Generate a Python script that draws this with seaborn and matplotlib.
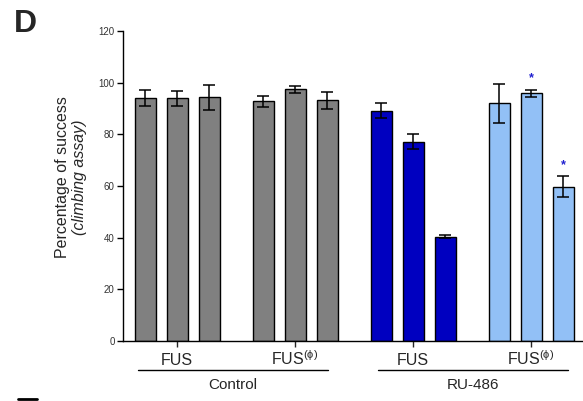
import matplotlib
matplotlib.use("Agg")
import matplotlib.pyplot as plt
import seaborn as sns
import pandas as pd
import numpy as np
from matplotlib.lines import Line2D

sns.set_theme(style="ticks")
plt.rcParams['font.family'] = ['Liberation Sans', 'DejaVu Sans']
plt.rcParams['mathtext.fontset'] = 'custom'
plt.rcParams['mathtext.rm'] = 'Liberation Sans'
plt.rcParams['mathtext.it'] = 'Liberation Sans:italic'

# ---- data ----
groups = ["Control FUS", "Control FUS(phi)", "RU-486 FUS", "RU-486 FUS(phi)"]
tick_labels = ["FUS", r"FUS$^{(\mathrm{\phi})}$", "FUS", r"FUS$^{(\mathrm{\phi})}$"]
replicates = ["1", "2", "3"]
means = [
    [94.0, 93.9, 94.3],
    [92.8, 97.4, 93.2],
    [89.2, 77.2, 40.4],
    [92.0, 95.9, 59.8],
]
errors = [
    [3.0, 3.0, 4.7],
    [2.1, 1.3, 3.3],
    [2.9, 2.9, 0.6],
    [7.6, 1.4, 4.1],
]
group_colors = ["#808080", "#808080", "#0000C0", "#92C0F6"]
star_group = [3, 3]
star_rep = [1, 2]
condition_labels = ["Control", "RU-486"]

rows = []
for g, gname in enumerate(groups):
    for r, rname in enumerate(replicates):
        rows.append({"group": gname, "rep": rname, "value": means[g][r], "err": errors[g][r]})
df = pd.DataFrame(rows)

fig = plt.figure(figsize=(5.83, 4.01), dpi=100)
ax = fig.add_axes([123/583, 60/401, 460/583, 310/401])

sns.barplot(data=df, x="group", y="value", hue="rep", order=groups, hue_order=replicates,
            palette=["#808080"]*3, errorbar=None, width=0.813, gap=0.343,
            edgecolor="black", linewidth=1.0, legend=False, ax=ax)

bar_containers = list(ax.containers)
for r, cont in enumerate(bar_containers):
    for g, patch in enumerate(cont.patches):
        patch.set_facecolor(group_colors[g])
        xc = patch.get_x() + patch.get_width() / 2
        ax.errorbar(xc, means[g][r], yerr=errors[g][r], fmt="none", ecolor="black",
                    elinewidth=1.1, capsize=4.0, capthick=1.1, zorder=5)

for g, r in zip(star_group, star_rep):
    patch = bar_containers[r].patches[g]
    xc = patch.get_x() + patch.get_width() / 2
    ax.text(xc, means[g][r] + errors[g][r] + 2.0, "*", color="#2020D0", ha="center",
            va="bottom", fontsize=9, fontweight="bold")

ax.set_ylim(0, 120)
ax.set_xlim(-0.458, 3.44)
ax.set_yticks([0, 20, 40, 60, 80, 100, 120])
ax.tick_params(axis="y", labelsize=7, length=4, width=1, colors="black", labelcolor="#333333", pad=2)
ax.tick_params(axis="x", labelsize=11.5, length=4, width=1, pad=13)
ax.set_xticks(range(len(groups)))
ax.set_xticklabels(tick_labels)
for lbl in ax.get_xticklabels():
    lbl.set_verticalalignment("baseline")
ax.set_xlabel("")
ax.set_ylabel("")
for s in ["top", "right"]:
    ax.spines[s].set_visible(False)
for s in ["left", "bottom"]:
    ax.spines[s].set_linewidth(1.0)
    ax.spines[s].set_color("black")

# condition brackets
trans = ax.get_xaxis_transform()
spans = [(-0.33, 1.28), (1.70, 3.31)]
for (x0, x1), lab in zip(spans, condition_labels):
    ax.plot([x0, x1], [-0.0935, -0.0935], color="black", lw=1.0, transform=trans, clip_on=False)
    ax.text((x0 + x1) / 2, -0.142, lab, transform=trans, ha="center", va="center", fontsize=11)

ax.text(-0.132, 0.529, "Percentage of success", transform=ax.transAxes, rotation=90,
        ha="center", va="center", fontsize=11.5)
ax.text(-0.094, 0.529, "(climbing assay)", transform=ax.transAxes, rotation=90,
        ha="center", va="center", fontsize=11.5, style="italic")

fig.text(14/583, 1 - 24/401, "D", fontsize=23, fontweight="bold", va="center", ha="left")
fig.add_artist(Line2D([18/583, 37/583], [1 - 399/401, 1 - 399/401], color="black", lw=2))

fig.savefig("out.png", dpi=100)
